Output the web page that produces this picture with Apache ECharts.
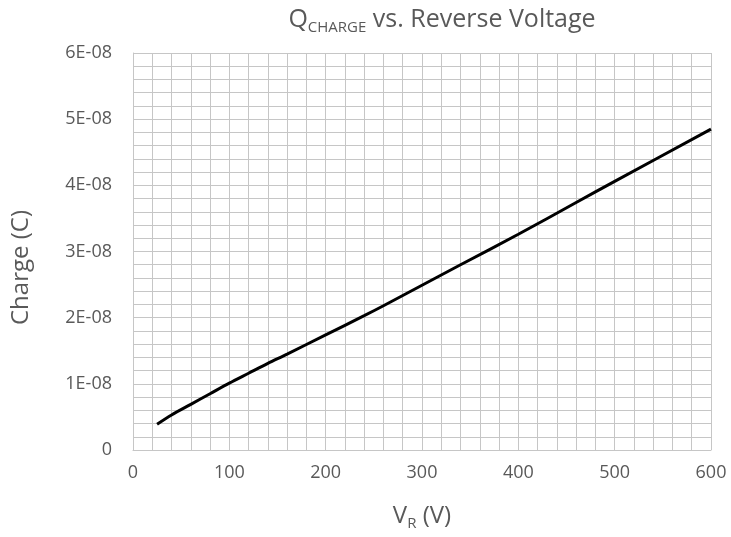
<!DOCTYPE html>
<html>
<head>
<meta charset="utf-8">
<script src="https://cdn.jsdelivr.net/npm/echarts@6/dist/echarts.min.js"></script>
<style>html,body{margin:0;padding:0;background:#fff;}#c{width:731px;height:537px;}</style>
</head>
<body>
<div id="c"></div>
<script>
const voltage = [25, 40, 60, 80, 100, 120, 140, 160, 200, 240, 260, 300, 340, 400, 460, 500, 600];
const chargeNano = [3.9, 5.3, 6.9, 8.5, 10.1, 11.6, 13.1, 14.5, 17.4, 20.3, 21.8, 24.9, 28.0, 32.6, 37.4, 40.6, 48.5];
const yTickLabels = ['0', '1E-08', '2E-08', '3E-08', '4E-08', '5E-08', '6E-08'];

const data = voltage.map((v, i) => [v, chargeNano[i] * 1e-9]);
const font = 'Open Sans';
const txt = '#595959';
const gridColor = '#c6c6c6';

const chart = echarts.init(document.getElementById('c'));
chart.setOption({
  animation: false,
  title: {
    text: '{q|Q}{sub|CHARGE}{q| vs. Reverse Voltage}',
    left: 437, top: 2, textAlign: 'center',
    textStyle: {
      fontWeight: 'normal',
      rich: {
        q: { fontFamily: font, fontSize: 25, color: txt, fontWeight: 'normal', verticalAlign: 'bottom' },
        sub: { fontFamily: font, fontSize: 15, color: txt, fontWeight: 'normal', verticalAlign: 'bottom', padding: [0, 0, -3, 0] }
      }
    }
  },
  grid: { left: 133, right: 20, top: 53, bottom: 87 },
  xAxis: {
    type: 'value', min: 0, max: 600, interval: 100,
    name: '{v|V}{s|R}{v| (V)}',
    nameLocation: 'middle', nameGap: 54,
    nameTextStyle: { rich: {
      v: { fontFamily: font, fontSize: 24, color: txt, verticalAlign: 'bottom' },
      s: { fontFamily: font, fontSize: 15, color: txt, verticalAlign: 'bottom', padding: [0, 0, -3, 0] }
    } },
    axisLine: { show: true, lineStyle: { color: gridColor, width: 1 } },
    axisTick: { show: false },
    axisLabel: { fontFamily: font, fontSize: 18, color: txt, margin: 14 },
    splitLine: { show: true, lineStyle: { color: gridColor, width: 1 } },
    minorTick: { show: false, splitNumber: 5 },
    minorSplitLine: { show: true, lineStyle: { color: gridColor, width: 1 } }
  },
  yAxis: {
    type: 'value', min: 0, max: 6e-8, interval: 1e-8,
    name: 'Charge (C)', nameLocation: 'middle', nameGap: 100,
    nameTextStyle: { fontFamily: font, fontSize: 24, color: txt, padding: [0, 32, 0, 0] },
    axisLine: { show: true, lineStyle: { color: gridColor, width: 1 } },
    axisTick: { show: false },
    axisLabel: {
      fontFamily: font, fontSize: 18, color: txt, margin: 21,
      formatter: (val) => yTickLabels[Math.round(val / 1e-8)]
    },
    splitLine: { show: true, lineStyle: { color: gridColor, width: 1 } },
    minorTick: { show: false, splitNumber: 5 },
    minorSplitLine: { show: true, lineStyle: { color: gridColor, width: 1 } }
  },
  series: [{
    type: 'line', data: data, smooth: 0.3, showSymbol: false,
    lineStyle: { color: '#000', width: 3 }
  }]
});
</script>
</body>
</html>
